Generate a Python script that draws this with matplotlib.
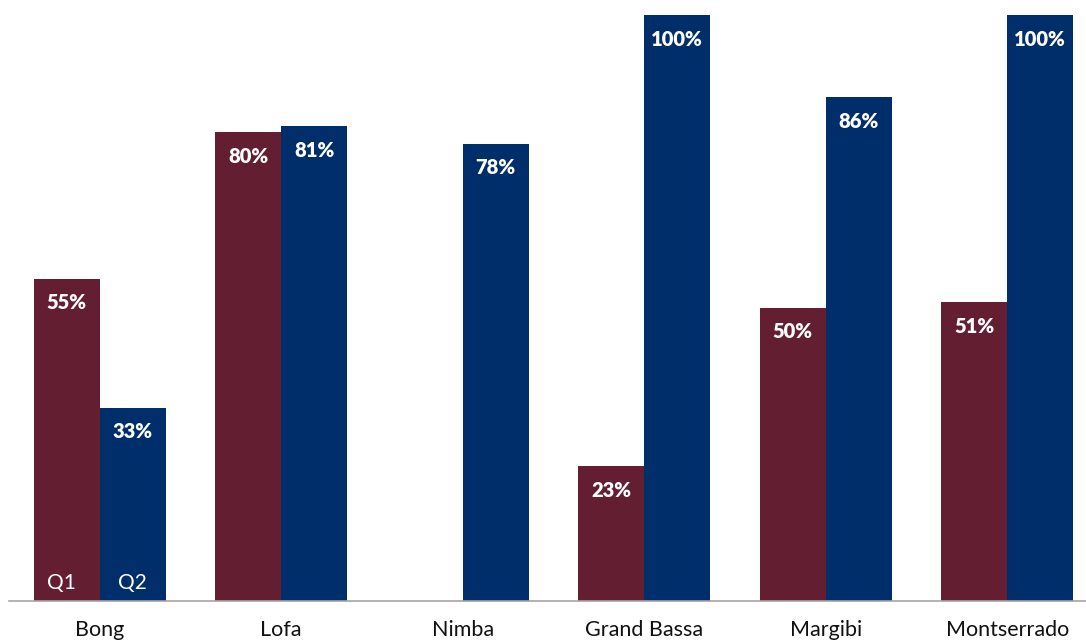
import matplotlib.pyplot as plt
import numpy as np

plt.rcParams['font.family'] = ['Lato', 'DejaVu Sans']

counties = ['Bong', 'Lofa', 'Nimba', 'Grand Bassa', 'Margibi', 'Montserrado']
q1 = [55, 80, None, 23, 50, 51]
q2 = [33, 81, 78, 100, 86, 100]

q1_color = '#641e32'
q2_color = '#002e6b'
width = 0.363

fig = plt.figure(figsize=(10.86, 6.41), dpi=100)
ax = fig.add_axes([9 / 1086, 40 / 641, 1089 / 1086, 586 / 641])

x = np.arange(len(counties))
for series, offset, color in [(q1, -width / 2, q1_color), (q2, width / 2, q2_color)]:
    for xi, v in zip(x, series):
        if v is None:
            continue
        ax.bar(xi + offset, v, width, color=color, clip_on=False)
        ax.annotate(f'{v}%', (xi + offset, v), xytext=(0, -24),
                    textcoords='offset pixels', ha='center', va='center',
                    color='white', fontsize=14.5, fontweight='heavy')

# series names inside the first pair of bars
ax.annotate('Q1', (x[0] - width / 2, 0), xytext=(-5, 18), textcoords='offset pixels',
            ha='center', va='center', color='white', fontsize=15)
ax.annotate('Q2', (x[0] + width / 2, 0), xytext=(0, 18), textcoords='offset pixels',
            ha='center', va='center', color='white', fontsize=15)

ax.set_xlim(-0.5, 5.5)
ax.set_ylim(0, 100)
ax.set_yticks([])
ax.set_xticks(x)
ax.set_xticklabels(counties, fontsize=15.5, color='#111111')
ax.tick_params(axis='x', length=0, pad=14)
for side in ['top', 'right', 'left']:
    ax.spines[side].set_visible(False)
ax.spines['bottom'].set_color('#a6a6a6')
ax.spines['bottom'].set_linewidth(1.2)

fig.savefig('out.png', dpi=100)
